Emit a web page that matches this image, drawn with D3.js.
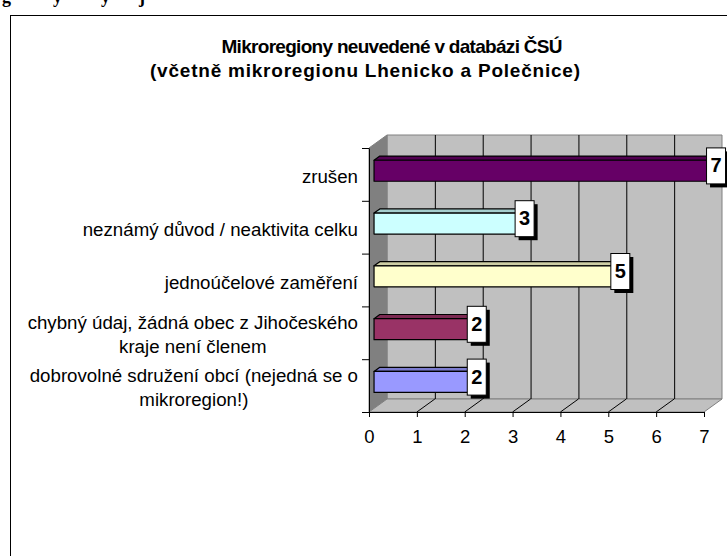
<!DOCTYPE html>
<html><head><meta charset="utf-8">
<script src="https://cdn.jsdelivr.net/npm/d3@7"></script>
<style>body{margin:0;background:#fff}svg{display:block}</style>
</head><body>
<script>
const titleLines = ["Mikroregiony neuvedené v databázi ČSÚ", "(včetně mikroregionu Lhenicko a Polečnice)"];
const categories = [
  ["zrušen"],
  ["neznámý důvod / neaktivita celku"],
  ["jednoúčelové zaměření"],
  ["chybný údaj, žádná obec z Jihočeského", "kraje není členem"],
  ["dobrovolné sdružení obcí (nejedná se o", "mikroregion!)"]
];
const values = [7, 3, 5, 2, 2];
const colors = ["#660066", "#CCFFFF", "#FFFFCC", "#993366", "#9999FF"];
const tickValues = [0, 1, 2, 3, 4, 5, 6, 7];

const W = 727, H = 556;
const svg = d3.select("body").append("svg").attr("width", W).attr("height", H);
const FONT = "Arial, 'Liberation Sans', sans-serif";

// cropped heading above the chart frame
svg.append("text").attr("y", 3).attr("font-family", "'Liberation Serif','Times New Roman',serif")
  .attr("font-weight", "bold").attr("font-size", 18)
  .selectAll("tspan").data(["g", "y", "y", "j"]).join("tspan")
  .attr("x", (d, i) => [2, 53, 101, 139][i]).text(d => d);

// frame
svg.append("rect").attr("x", 10.5).attr("y", 15.5).attr("width", 760).attr("height", 600)
  .attr("fill", "#fff").attr("stroke", "#000").attr("stroke-width", 1);

// title
svg.append("g").selectAll("text").data(titleLines).join("text")
  .attr("x", (d, i) => [392, 365][i]).attr("y", (d, i) => 53 + i * 24)
  .attr("text-anchor", "middle").attr("font-family", FONT).attr("font-weight", "bold")
  .attr("font-size", 19).attr("textLength", (d, i) => [341, 430][i]).attr("lengthAdjust", "spacing")
  .text(d => d);

const x = d3.scaleLinear().domain([0, 7]).range([369, 704]);
const yLin = d3.scaleLinear().domain([0, categories.length]).range([148, 412]);
const y = d3.scaleBand().domain(d3.range(categories.length)).range([148, 412]);
const DX = 18, DY = -13;
const P = (v, yy, z) => [x(v) + DX * z, yy + DY * z];
const yTop = 148, yBot = 412;

const plot = svg.append("g");
// back wall
plot.append("polygon").attr("points", [P(0, yTop, 1), P(7, yTop, 1), P(7, yBot, 1), P(0, yBot, 1)].join(" "))
  .attr("fill", "#C0C0C0").attr("stroke", "#808080");
// side wall
plot.append("polygon").attr("points", [P(0, yTop, 0), P(0, yTop, 1), P(0, yBot, 1), P(0, yBot, 0)].join(" "))
  .attr("fill", "#808080").attr("stroke", "#808080");
// floor
plot.append("polygon").attr("points", [P(0, yBot, 0), P(0, yBot, 1), P(7, yBot, 1), P(7, yBot, 0)].join(" "))
  .attr("fill", "#C0C0C0").attr("stroke", "#808080");
// gridlines
const inner = tickValues.filter(t => t > 0 && t < 7);
plot.append("g").selectAll("line").data(inner).join("line")
  .attr("x1", t => P(t, yTop, 1)[0] + 0.5).attr("x2", t => P(t, yTop, 1)[0] + 0.5)
  .attr("y1", P(0, yTop, 1)[1]).attr("y2", P(0, yBot, 1)[1]).attr("stroke", "#000");
plot.append("g").selectAll("line").data(inner).join("line")
  .attr("x1", t => P(t, yBot, 0)[0]).attr("y1", yBot)
  .attr("x2", t => P(t, yBot, 1)[0]).attr("y2", t => P(t, yBot, 1)[1]).attr("stroke", "#000");

// axes
const xAxis = svg.append("g").attr("transform", `translate(0,${yBot})`)
  .call(d3.axisBottom(x).tickValues(tickValues).tickSize(5).tickSizeOuter(0).tickFormat(d3.format("d")));
xAxis.selectAll("text").attr("y", 18).attr("font-size", 18.5).attr("font-family", FONT).attr("fill", "#000");
xAxis.selectAll("line,path").attr("stroke", "#000");
const yAxis = svg.append("g").attr("transform", `translate(${x(0)},0)`)
  .call(d3.axisLeft(yLin).tickValues(d3.range(categories.length + 1)).tickSize(7).tickSizeOuter(0).tickFormat(""));
yAxis.selectAll("line,path").attr("stroke", "#000");

// category labels
categories.forEach((lines, i) => {
  const c = y(i) + y.bandwidth() / 2;
  const g = svg.append("g");
  const texts = g.selectAll("text").data(lines).join("text")
    .attr("font-family", FONT).attr("font-size", 18.7).attr("fill", "#000")
    .attr("y", (d, j) => c + 8.5 + (j - (lines.length - 1) / 2) * 24)
    .text(d => d);
  const maxW = d3.max(texts.nodes(), n => n.getComputedTextLength());
  texts.attr("x", 358 - maxW / 2).attr("text-anchor", "middle");
});

// bars
const zf = 0.28, zb = 0.6, BH = 21;
const darker = (c, k) => d3.color(c).darker(k).formatHex();
values.forEach((v, i) => {
  const c = y(i) + y.bandwidth() / 2;
  const [x0, yc] = P(0, c, zf);
  const x1 = P(v, c, zf)[0];
  const dx = DX * (zb - zf), dy = DY * (zb - zf);
  const t = yc - BH / 2, b = yc + BH / 2;
  const g = plot.append("g").attr("stroke", "#000").attr("stroke-width", 1.2).attr("stroke-linejoin", "round");
  g.append("polygon").attr("points", [[x0, t], [x1, t], [x1 + dx, t + dy], [x0 + dx, t + dy]].join(" "))
    .attr("fill", darker(colors[i], 0.6));
  g.append("polygon").attr("points", [[x1, t], [x1 + dx, t + dy], [x1 + dx, b + dy], [x1, b]].join(" "))
    .attr("fill", darker(colors[i], 1));
  g.append("rect").attr("x", x0).attr("y", t).attr("width", x1 - x0).attr("height", BH).attr("fill", colors[i]);
  // value label box
  const bx = x1 - 3, by = c - 9 - 18;
  const lg = svg.append("g");
  lg.append("rect").attr("x", bx + 4).attr("y", by + 4).attr("width", 19).attr("height", 36).attr("fill", "#000");
  lg.append("rect").attr("x", bx + 0.5).attr("y", by + 0.5).attr("width", 19).attr("height", 36)
    .attr("fill", "#fff").attr("stroke", "#000");
  lg.append("text").attr("x", bx + 10).attr("y", c - 9 + 7).attr("text-anchor", "middle")
    .attr("font-family", FONT).attr("font-weight", "bold").attr("font-size", 20).attr("fill", "#000").text(v);
});
</script>
</body></html>
